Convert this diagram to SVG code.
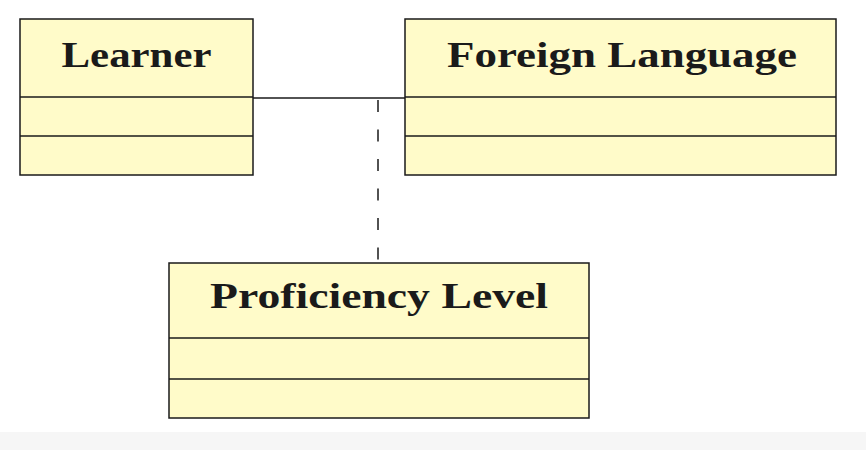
<svg xmlns="http://www.w3.org/2000/svg" width="866" height="450" viewBox="0 0 866 450">
<style>
.box{fill:#fffbc9;stroke:#1a1a1a;stroke-width:1.5}
.div{stroke:#1a1a1a;stroke-width:1.5}
.t{font-family:"Liberation Serif","DejaVu Serif",serif;font-weight:bold;font-size:35px;fill:#1a1a1a;text-anchor:middle}
.c{stroke:#1a1a1a;stroke-width:1.5;fill:none}
</style>
<rect x="0" y="0" width="866" height="450" fill="#ffffff"/>
<rect x="0" y="432" width="866" height="18" fill="#f6f6f6"/>
<g id="connectors">
<line class="c" x1="253" y1="98" x2="405" y2="98"/>
<line class="c" x1="378" y1="100" x2="378" y2="263" stroke-dasharray="12,17.5"/>
</g>
<g id="learner">
<rect class="box" x="20" y="19" width="233" height="156"/>
<line class="div" x1="20" y1="97" x2="253" y2="97"/>
<line class="div" x1="20" y1="136" x2="253" y2="136"/>
<text class="t" x="136.5" y="67" textLength="150" lengthAdjust="spacingAndGlyphs">Learner</text>
</g>
<g id="foreign-language">
<rect class="box" x="405" y="19" width="431" height="156"/>
<line class="div" x1="405" y1="97" x2="836" y2="97"/>
<line class="div" x1="405" y1="136" x2="836" y2="136"/>
<text class="t" x="622" y="67" textLength="350" lengthAdjust="spacingAndGlyphs">Foreign Language</text>
</g>
<g id="proficiency-level">
<rect class="box" x="169" y="263" width="420" height="155"/>
<line class="div" x1="169" y1="338" x2="589" y2="338"/>
<line class="div" x1="169" y1="379" x2="589" y2="379"/>
<text class="t" x="379" y="308" textLength="338" lengthAdjust="spacingAndGlyphs">Proficiency Level</text>
</g>
</svg>
